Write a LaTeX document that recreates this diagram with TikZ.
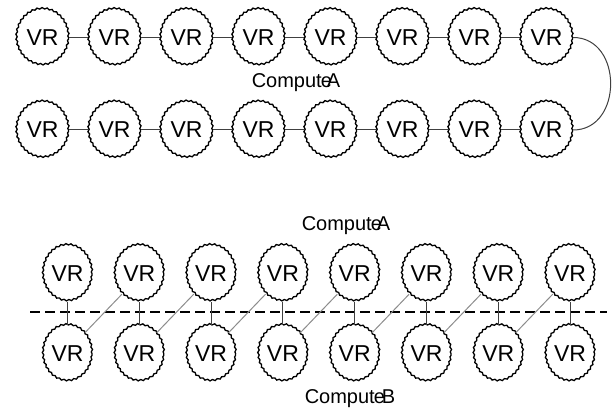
\documentclass[tikz,border=0pt]{standalone}
\usepackage{fontspec}
\setmainfont{Liberation Sans}
\usetikzlibrary{shapes.geometric,decorations.pathmorphing}
\begin{document}
\begin{tikzpicture}[x=1pt,y=1pt,
  vr/.style={shape=ellipse, draw=black, line width=1.3pt, inner sep=0pt,
    minimum width=52pt, minimum height=56pt, font=\fontsize{23}{23}\selectfont,
    decorate, decoration={snake, amplitude=0.7pt, segment length=5pt}},
  vrb/.style={vr, minimum width=49pt},
  link/.style={draw=black!75, line width=1pt},
  cross/.style={draw=black!45, line width=1pt},
  lbl/.style={font=\fontsize{20}{20}\selectfont}]
\useasboundingbox (0,0) rectangle (613,412);

% ring of routers on ComputeA
\foreach \i in {1,...,8}{
  \node[vr] (t\i) at ({42.5+72*(\i-1)},374.5) {VR};
  \node[vr] (u\i) at ({42.5+72*(\i-1)},282) {VR};
}
\foreach \i [count=\j from 2] in {1,...,7}{
  \draw[link] (t\i.east) -- (t\j.west);
  \draw[link] (u\i.east) -- (u\j.west);
}
\draw[link] (t8.east) .. controls ([xshift=50pt]t8.east) and ([xshift=50pt]u8.east) .. (u8.east);
\node[lbl] (ca) at (296,329) {Comput\kern-1pt e\kern-5pt A};

% routers split across ComputeA and ComputeB
\node[lbl] (cb1) at (346,186) {Comput\kern-1pt e\kern-5pt A};
\foreach \i in {1,...,8}{
  \node[vrb] (k\i) at ({67.5+71.8*(\i-1)},138.5) {VR};
  \node[vrb] (l\i) at ({67.5+71.8*(\i-1)},58.5) {VR};
}
\coordinate (dl) at (30,100);
\coordinate (dr) at (607,100);
\draw[line width=1.5pt, dash pattern=on 10pt off 5pt] (dl) -- (dr);
\foreach \i in {1,...,8}{
  \draw[link] (k\i.south) -- (l\i.north);
}
\foreach \i [count=\j from 2] in {1,...,7}{
  \draw[cross] (l\i.50) -- (k\j.230);
}
\node[lbl] (cb2) at (350,13) {Comput\kern-1pt e\kern-3pt B};
\end{tikzpicture}
\end{document}
